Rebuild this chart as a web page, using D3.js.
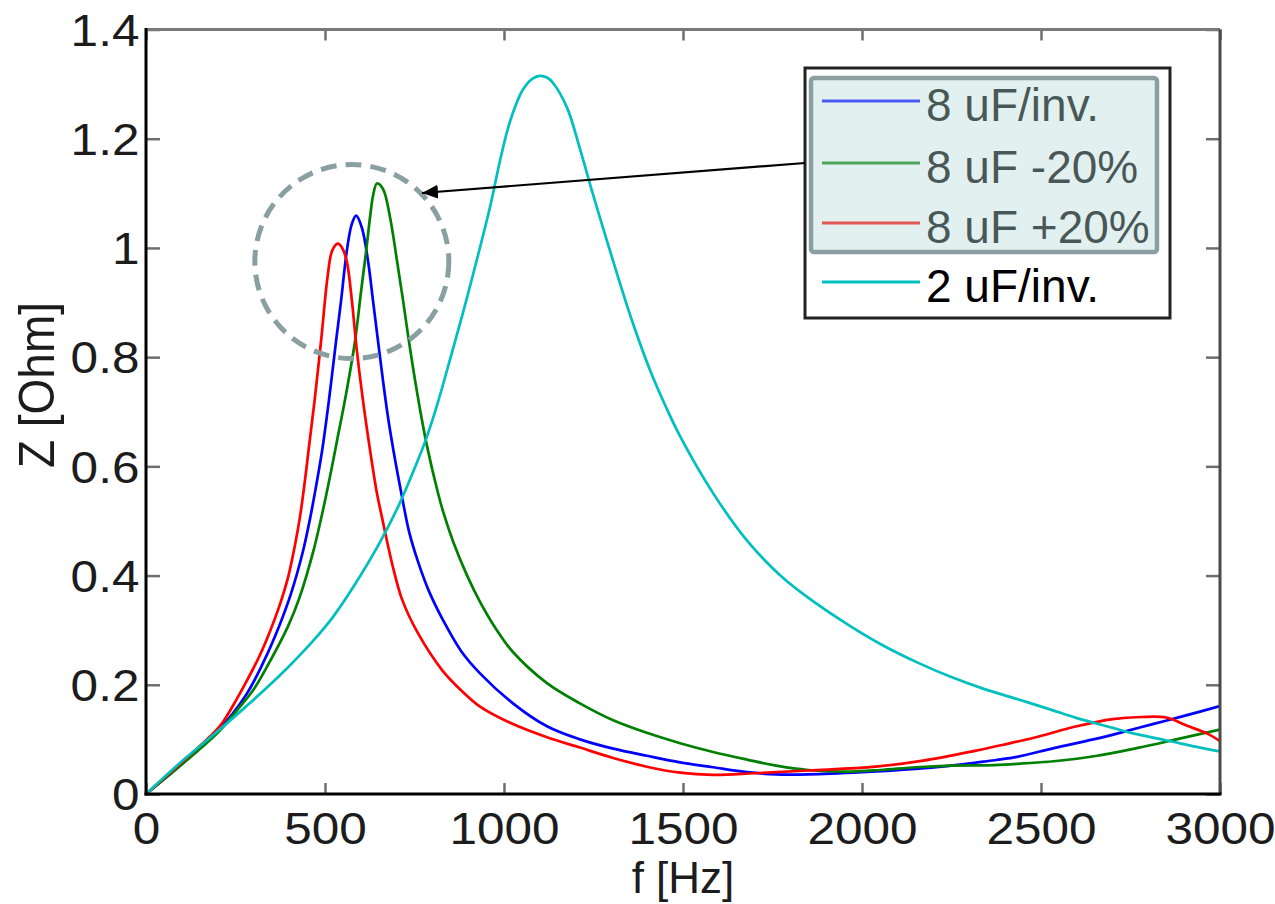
<!DOCTYPE html>
<html>
<head>
<meta charset="utf-8">
<script src="https://cdn.jsdelivr.net/npm/d3@7"></script>
<style>
  html, body { margin: 0; padding: 0; background: #ffffff; }
  svg { display: block; }
</style>
</head>
<body>
<svg id="chart" width="1275" height="904"></svg>
<script>
// Impedance magnitude |Z| vs frequency for several filter capacitor choices

const freqTicks = [0, 500, 1000, 1500, 2000, 2500, 3000];
const freqTickLabels = ["0", "500", "1000", "1500", "2000", "2500", "3000"];
const zTicks = [0, 0.2, 0.4, 0.6, 0.8, 1.0, 1.2, 1.4];
const zTickLabels = ["0", "0.2", "0.4", "0.6", "0.8", "1", "1.2", "1.4"];

const seriesNames = ["8 uF/inv.", "8 uF -20%", "8 uF +20%", "2 uF/inv."];
const seriesColors = ["#0000ff", "#008000", "#ff0000", "#00bfbf"];

// [frequency Hz, impedance Ohm]
const cap8Nominal = [
  [0,0],[100,0.055],[200,0.115],[280,0.182],[327,0.240],[371,0.306],[405,0.367],
  [439,0.446],[459,0.507],[473,0.556],[492,0.629],[511,0.721],[531,0.830],[545,0.904],
  [561,0.995],[575,1.044],[587,1.059],[603,1.037],[620,0.977],[634,0.904],[648,0.830],
  [662,0.757],[676,0.690],[696,0.611],[712,0.555],[735,0.480],[760,0.425],[790,0.372],
  [830,0.318],[880,0.262],[933,0.221],[1025,0.166],[1120,0.124],[1212,0.100],
  [1305,0.083],[1399,0.070],[1492,0.058],[1584,0.049],[1679,0.040],[1760,0.036],
  [1850,0.036],[2000,0.040],[2149,0.046],[2250,0.052],[2348,0.060],[2425,0.067],
  [2536,0.084],[2646,0.100],[2720,0.112],[2812,0.128],[2900,0.143],[3000,0.161]
];
const cap8Minus20 = [
  [0,0],[100,0.054],[200,0.112],[250,0.150],[299,0.190],[337,0.232],[396,0.306],
  [429,0.360],[468,0.446],[496,0.525],[519,0.598],[533,0.645],[559,0.733],[584,0.830],
  [601,0.922],[615,0.995],[628,1.068],[634,1.095],[645,1.118],[662,1.108],[682,1.055],
  [701,0.977],[718,0.904],[732,0.840],[746,0.780],[765,0.706],[785,0.637],[813,0.558],
  [830,0.517],[858,0.462],[897,0.400],[933,0.352],[980,0.300],[1025,0.260],[1120,0.203],
  [1212,0.166],[1305,0.135],[1399,0.112],[1492,0.093],[1584,0.077],[1679,0.063],
  [1760,0.052],[1850,0.044],[1950,0.041],[2050,0.044],[2150,0.049],[2250,0.052],
  [2370,0.053],[2450,0.056],[2536,0.060],[2657,0.070],[2789,0.087],[2878,0.100],
  [3000,0.118]
];
const cap8Plus20 = [
  [0,0],[100,0.058],[186,0.110],[214,0.131],[244,0.163],[278,0.203],[315,0.250],
  [344,0.294],[373,0.345],[397,0.397],[415,0.452],[430,0.507],[443,0.569],[454,0.629],
  [471,0.721],[490,0.836],[507,0.946],[520,0.995],[536,1.008],[548,1.000],[561,0.975],
  [575,0.904],[589,0.812],[606,0.721],[626,0.629],[645,0.551],[659,0.507],[690,0.415],
  [716,0.355],[760,0.294],[827,0.227],[880,0.190],[933,0.160],[1025,0.128],[1120,0.104],
  [1212,0.085],[1305,0.066],[1399,0.050],[1492,0.039],[1584,0.035],[1700,0.038],
  [1850,0.043],[2039,0.050],[2171,0.061],[2315,0.079],[2400,0.091],[2480,0.103],
  [2600,0.124],[2700,0.137],[2780,0.141],[2850,0.140],[2908,0.125],[2963,0.111],
  [3000,0.097]
];
const cap2Nominal = [
  [0,0],[93,0.056],[186,0.107],[279,0.160],[372,0.216],[466,0.280],[522,0.324],
  [578,0.378],[651,0.458],[707,0.530],[763,0.617],[785,0.655],[813,0.712],[849,0.795],
  [886,0.883],[913,0.950],[961,1.075],[989,1.160],[1017,1.232],[1053,1.290],[1080,1.310],
  [1101,1.315],[1120,1.312],[1137,1.302],[1176,1.257],[1212,1.182],[1249,1.097],
  [1288,1.012],[1324,0.935],[1360,0.862],[1408,0.776],[1455,0.705],[1492,0.655],
  [1584,0.551],[1679,0.464],[1779,0.396],[1874,0.348],[1966,0.308],[2059,0.272],
  [2154,0.241],[2246,0.215],[2338,0.193],[2433,0.174],[2525,0.155],[2600,0.139],
  [2701,0.121],[2757,0.111],[2852,0.098],[2944,0.085],[3000,0.078]
];

const seriesData = [cap8Nominal, cap8Minus20, cap8Plus20, cap2Nominal];

const svg = d3.select("#chart");
const plotLeft = 146, plotRight = 1220, plotTop = 29.5, plotBottom = 794;

const x = d3.scaleLinear().domain([0, 3000]).range([plotLeft, plotRight]);
const y = d3.scaleLinear().domain([0, 1.4]).range([plotBottom, plotTop]);

const tickFont = "'Liberation Sans', Arial, Helvetica, sans-serif";
const textColor = "#1c1c1c";

const defs = svg.append("defs");
defs.append("clipPath").attr("id", "plot-clip")
  .append("rect").attr("x", plotLeft).attr("y", plotTop)
  .attr("width", plotRight - plotLeft).attr("height", plotBottom - plotTop);

defs.append("marker")
  .attr("id", "arrow-head")
  .attr("viewBox", "0 0 16 14")
  .attr("refX", 16).attr("refY", 7)
  .attr("markerWidth", 16).attr("markerHeight", 14)
  .attr("markerUnits", "userSpaceOnUse")
  .attr("orient", "auto")
  .append("path").attr("d", "M0,0 L16,7 L0,14 Z").attr("fill", "#000");

// curves
const line = d3.line()
  .x(d => x(d[0]))
  .y(d => y(d[1]))
  .curve(d3.curveCatmullRom.alpha(0.5));

const curves = svg.append("g").attr("clip-path", "url(#plot-clip)");
seriesData.forEach((data, i) => {
  curves.append("path")
    .datum(data)
    .attr("fill", "none")
    .attr("stroke", seriesColors[i])
    .attr("stroke-width", 2.7)
    .attr("stroke-linejoin", "round")
    .attr("d", line);
});

// axes with inward ticks
function styleTicks(g) {
  g.select(".domain").remove();
  g.selectAll(".tick line").attr("stroke", "#6e6e6e").attr("stroke-width", 2.5);
}

const xAxis = svg.append("g")
  .attr("transform", `translate(0,${plotBottom})`)
  .call(d3.axisBottom(x).tickValues(freqTicks)
    .tickFormat((d, i) => freqTickLabels[i])
    .tickSizeInner(-11).tickSizeOuter(0).tickPadding(18))
  .call(styleTicks);
xAxis.selectAll(".tick text")
  .attr("font-family", tickFont).attr("font-size", 45)
  .attr("fill", textColor)
  .attr("transform", "scale(1.1,1)");

const yAxis = svg.append("g")
  .attr("transform", `translate(${plotLeft},0)`)
  .call(d3.axisLeft(y).tickValues(zTicks)
    .tickFormat((d, i) => zTickLabels[i])
    .tickSizeInner(-14).tickSizeOuter(0).tickPadding(6))
  .call(styleTicks);
yAxis.selectAll(".tick text")
  .attr("font-family", tickFont).attr("font-size", 45)
  .attr("fill", textColor)
  .attr("dy", "0.35em")
  .attr("transform", "scale(1.1,1)");

svg.append("g")
  .attr("transform", `translate(0,${plotTop})`)
  .call(d3.axisTop(x).tickValues(freqTicks).tickFormat("")
    .tickSizeInner(-11).tickSizeOuter(0))
  .call(styleTicks);

svg.append("g")
  .attr("transform", `translate(${plotRight},0)`)
  .call(d3.axisRight(y).tickValues(zTicks).tickFormat("")
    .tickSizeInner(-14).tickSizeOuter(0))
  .call(styleTicks);

// frame
const frame = svg.append("g").attr("fill", "none").attr("stroke-width", 3);
frame.append("line").attr("x1", plotLeft).attr("x2", plotRight).attr("y1", plotTop).attr("y2", plotTop).attr("stroke", "#7a7a7a");
frame.append("line").attr("x1", plotRight).attr("x2", plotRight).attr("y1", plotTop).attr("y2", plotBottom).attr("stroke", "#4a4a4a");
frame.append("line").attr("x1", plotLeft).attr("x2", plotLeft).attr("y1", plotTop - 1.5).attr("y2", plotBottom + 1.5).attr("stroke", "#000");
frame.append("line").attr("x1", plotLeft - 1.5).attr("x2", plotRight + 1.5).attr("y1", plotBottom).attr("y2", plotBottom).attr("stroke", "#000");

// axis titles
svg.append("text")
  .attr("x", 683).attr("y", 893)
  .attr("text-anchor", "middle")
  .attr("font-family", tickFont).attr("font-size", 44)
  .attr("fill", textColor)
  .text("f [Hz]");

svg.append("text")
  .attr("transform", "translate(54,385) rotate(-90) scale(1,1.1)")
  .attr("text-anchor", "middle")
  .attr("font-family", tickFont).attr("font-size", 46)
  .attr("fill", textColor)
  .text("Z [Ohm]");

// dashed circle around the 8 uF resonance peaks
svg.append("circle")
  .attr("cx", x(575)).attr("cy", y(0.975)).attr("r", 97)
  .attr("fill", "none")
  .attr("stroke", "#8a9fa1")
  .attr("stroke-width", 5)
  .attr("stroke-dasharray", "16,9");

// legend
const legend = svg.append("g");
legend.append("rect")
  .attr("x", 805).attr("y", 68).attr("width", 365).attr("height", 250)
  .attr("fill", "#ffffff").attr("stroke", "#222").attr("stroke-width", 3);

const rowY = [101, 163, 223, 282];
seriesNames.forEach((name, i) => {
  legend.append("line")
    .attr("x1", 822).attr("x2", 920)
    .attr("y1", rowY[i]).attr("y2", rowY[i])
    .attr("stroke", seriesColors[i]).attr("stroke-width", 3);
  legend.append("text")
    .attr("x", 926).attr("y", rowY[i] + 19.5)
    .attr("font-family", tickFont).attr("font-size", 46)
    .attr("fill", "#000")
    .text(name);
});

// translucent highlight over the three 8 uF entries
legend.append("rect")
  .attr("x", 811).attr("y", 78).attr("width", 346).attr("height", 174)
  .attr("rx", 3)
  .attr("fill", "rgb(182,220,217)").attr("fill-opacity", 0.4)
  .attr("stroke", "#8a9fa1").attr("stroke-width", 4.5);

// arrow from the legend to the circled peaks
svg.append("line")
  .attr("x1", 805).attr("y1", 163)
  .attr("x2", 422).attr("y2", 193)
  .attr("stroke", "#000").attr("stroke-width", 2.2)
  .attr("marker-end", "url(#arrow-head)");
</script>
</body>
</html>
